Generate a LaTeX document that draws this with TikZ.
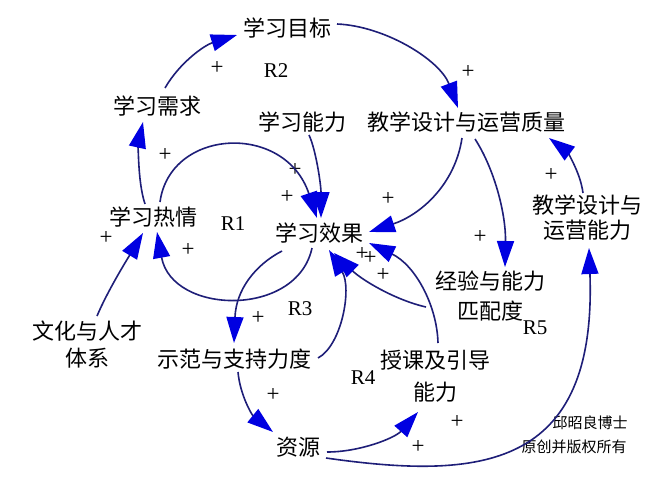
\documentclass[tikz,border=0pt]{standalone}
\usepackage{fontspec}
\setmainfont{Liberation Serif}
\newfontfamily\cjk{Noto Sans CJK SC}
\usetikzlibrary{arrows.meta}
\definecolor{linecol}{RGB}{30,30,120}
\definecolor{headcol}{RGB}{0,0,225}
\begin{document}
\begin{tikzpicture}[x=1pt,y=-1pt,
  lbl/.style={inner sep=0pt, font=\cjk\fontsize{22}{26}\selectfont, align=center},
  loopname/.style={inner sep=0pt, font=\fontsize{21}{24}\selectfont},
  pl/.style={inner sep=0pt, font=\fontsize{23}{24}\selectfont},
  credit/.style={inner sep=0pt, font=\cjk\fontsize{15}{16}\selectfont},
  arrowlink/.style={draw=linecol, line width=1.6pt, -{Triangle[length=26pt,width=17pt,color=headcol]}},
]
\useasboundingbox[fill=white] (0,0) rectangle (663,495);

% variables
\node[lbl] (mb) at (287,28) {学习目标};
\node[lbl] (xq) at (157,106) {学习需求};
\node[lbl] (nl) at (302,122) {学习能力};
\node[lbl] (zl) at (466,122) {教学设计与运营质量};
\node[lbl] (rq) at (153,217) {学习热情};
\node[lbl] (xg) at (319,233) {学习效果};
\node[lbl, font=\cjk\fontsize{22}{25}\selectfont] (yn) at (587,218) {教学设计与\\运营能力};
\node[lbl, font=\cjk\fontsize{22}{30}\selectfont] (pp) at (490,296) {经验与能力\\匹配度};
\node[lbl, font=\cjk\fontsize{22}{27}\selectfont] (wh) at (87,345) {文化与人才\\体系};
\node[lbl] (sf) at (234,359) {示范与支持力度};
\node[lbl, font=\cjk\fontsize{22}{32}\selectfont] (sk) at (435,376) {授课及引导\\能力};
\node[lbl] (zy) at (298,447) {资源};

% loop names
\node[loopname] (r1) at (233,224) {R1};
\node[loopname] (r2) at (276,71) {R2};
\node[loopname] (r3) at (300,309) {R3};
\node[loopname] (r4) at (363,378) {R4};
\node[loopname] (r5) at (535,328) {R5};

% credits
\node[credit] (c1) at (590,423) {邱昭良博士};
\node[credit] (c2) at (574,447) {原创并版权所有};

% polarity signs
\node[pl] (p1) at (217,68) {+};
\node[pl] (p2) at (165,155) {+};
\node[pl] (p3) at (468,72) {+};
\node[pl] (p4) at (295,170) {+};
\node[pl] (p5) at (287,197) {+};
\node[pl] (p6) at (388,199) {+};
\node[pl] (p7) at (551,175) {+};
\node[pl] (p8) at (480,237) {+};
\node[pl] (p9) at (106,238) {+};
\node[pl] (p10) at (188,250) {+};
\node[pl] (p11) at (258,318) {+};
\node[pl] (p12) at (362,254) {+};
\node[pl] (p13) at (370,258) {+};
\node[pl] (p14) at (383,275) {+};
\node[pl] (p15) at (273,395) {+};
\node[pl] (p16) at (457,422) {+};
\node[pl] (p17) at (418,447) {+};

% links
\draw[arrowlink] ([shift={(-8,-13)}]rq.center) .. controls (137,180) and (139,140) .. ([shift={(-14,16)}]xq.center);
\draw[arrowlink] ([shift={(8,-18)}]xq.center) .. controls (180,62) and (205,45) .. ([shift={(-50,7)}]mb.center);
\draw[arrowlink] ([shift={(50,-4)}]mb.center) .. controls (385,26) and (440,60) .. ([shift={(-8,-14)}]zl.center);
\draw[arrowlink] ([shift={(7,-15)}]rq.center) .. controls (170,128) and (285,122) .. ([shift={(-2,-15)}]xg.center);
\draw[arrowlink] ([shift={(7,13)}]nl.center) .. controls (316,150) and (321,185) .. ([shift={(2,-15)}]xg.center);
\draw[arrowlink] ([shift={(-7,15)}]xg.center) .. controls (297,318) and (172,315) .. ([shift={(4,15)}]rq.center);
\draw[arrowlink] ([shift={(10,-29)}]wh.center) .. controls (108,290) and (128,258) .. ([shift={(-10,16)}]rq.center);
\draw[arrowlink] ([shift={(-37,18)}]xg.center) .. controls (255,265) and (236,290) .. ([shift={(0,-16)}]sf.center);
\draw[arrowlink] ([shift={(84,-1)}]sf.center) .. controls (342,345) and (352,288) .. ([shift={(10,17)}]xg.center);
\draw[arrowlink] ([shift={(-64,11)}]pp.center) .. controls (395,300) and (362,280) .. ([shift={(15,20)}]xg.center);
\draw[arrowlink] ([shift={(3,-33)}]sk.center) .. controls (437,305) and (415,265) .. ([shift={(50,10)}]xg.center);
\draw[arrowlink] ([shift={(-4,16)}]zl.center) .. controls (455,185) and (420,215) .. ([shift={(50,-1)}]xg.center);
\draw[arrowlink] ([shift={(9,17)}]zl.center) .. controls (495,170) and (506,215) .. ([shift={(15,-29)}]pp.center);
\draw[arrowlink] ([shift={(-4,-25)}]yn.center) .. controls (580,170) and (565,150) .. ([shift={(83,16)}]zl.center);
\draw[arrowlink] ([shift={(28,11)}]zy.center) .. controls (480,480) and (597,470) .. ([shift={(2,30)}]yn.center);
\draw[arrowlink] ([shift={(29,5)}]zy.center) .. controls (360,452) and (395,438) .. ([shift={(-17,36)}]sk.center);
\draw[arrowlink] ([shift={(4,13)}]sf.center) .. controls (240,395) and (252,415) .. ([shift={(-25,-15)}]zy.center);
\end{tikzpicture}
\end{document}
